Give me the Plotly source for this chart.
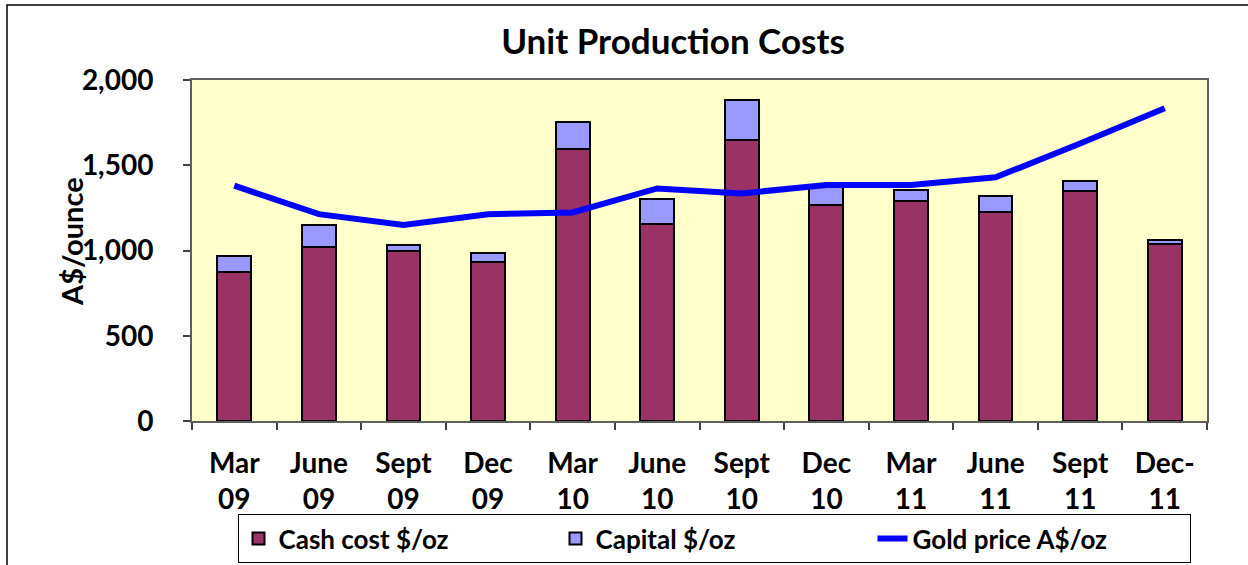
import plotly.graph_objects as go

categories = ["Mar<br>09", "June<br>09", "Sept<br>09", "Dec<br>09", "Mar<br>10", "June<br>10",
              "Sept<br>10", "Dec<br>10", "Mar<br>11", "June<br>11", "Sept<br>11", "Dec-<br>11"]
cash_cost = [875, 1021, 996, 933, 1595, 1153, 1648, 1266, 1290, 1223, 1350, 1037]
capital = [95, 128, 35, 53, 158, 148, 237, 114, 64, 98, 59, 24]
gold_price = [1380, 1213, 1149, 1213, 1223, 1364, 1335, 1384, 1384, 1429, 1628, 1834]

FONT = "Lato"
W, H = 1248, 565
L, R, T, B = 192, 41, 80, 144
PW, PH = W - L - R, H - T - B


def px_x(px):
    return (px - L) / PW


def px_y(py):
    return (H - B - py) / PH


fig = go.Figure()
fig.add_trace(go.Bar(x=categories, y=cash_cost, name="<b>Cash cost $/oz</b>",
                     marker=dict(color="#993366", line=dict(color="black", width=2)),
                     width=0.4))
fig.add_trace(go.Bar(x=categories, y=capital, name="<b>Capital $/oz</b>",
                     marker=dict(color="#9999FF", line=dict(color="black", width=2)),
                     width=0.4))
fig.add_trace(go.Scatter(x=categories, y=gold_price, name="<b>Gold price A$/oz</b>", mode="lines",
                         line=dict(color="#0000FF", width=6)))

fig.update_layout(
    width=W, height=H,
    margin=dict(l=L, r=R, t=T, b=B, autoexpand=False),
    barmode="stack",
    paper_bgcolor="white",
    plot_bgcolor="#FFFFCC",
    font=dict(family=FONT, size=28, color="black"),
    title=dict(text="<b>Unit Production Costs</b>", x=673 / W, xref="container", xanchor="center",
               y=1 - 42 / H, yref="container", yanchor="middle",
               font=dict(family=FONT, size=35, color="black")),
    showlegend=True,
    legend=dict(orientation="h", x=px_x(714), xanchor="center", y=px_y(563), yanchor="bottom",
                bgcolor="white", bordercolor="black", borderwidth=1,
                font=dict(family=FONT, size=26, color="black"),
                entrywidth=272, entrywidthmode="pixels", traceorder="normal"),
    xaxis=dict(type="category", tickson="boundaries", ticks="outside", ticklen=7,
               tickcolor="#404040", tickwidth=1.5, automargin=False,
               showline=True, linecolor="#606060", linewidth=2, mirror=True,
               showgrid=False, ticklabelstandoff=16,
               tickvals=categories, ticktext=["<b>" + c + "</b>" for c in categories],
               tickfont=dict(family=FONT, size=28, color="black"),
               range=[-0.5, 11.5]),
    yaxis=dict(range=[0, 2000], dtick=500, tickformat=",", ticks="outside", ticklen=7,
               tickcolor="#404040", tickwidth=1.5, tickprefix="<b>", ticksuffix="</b>",
               showline=True, linecolor="#606060", linewidth=2, mirror=True, automargin=False,
               showgrid=False, zeroline=False, ticklabelstandoff=24,
               tickfont=dict(family=FONT, size=28, color="black")),
    annotations=[dict(text="<b>A$/ounce</b>", textangle=-90, x=px_x(71), y=px_y(242),
                      xref="paper", yref="paper", xanchor="center", yanchor="middle",
                      showarrow=False,
                      font=dict(family=FONT, size=29, color="black"))],
    shapes=[dict(type="rect", xref="paper", yref="paper",
                 x0=px_x(7), x1=px_x(1300), y0=px_y(5), y1=px_y(620),
                 line=dict(color="black", width=1.5), fillcolor="rgba(0,0,0,0)", layer="below")],
)

fig.write_html("out.html", post_script="document.body.style.margin='0';",
               config={"displayModeBar": False})
